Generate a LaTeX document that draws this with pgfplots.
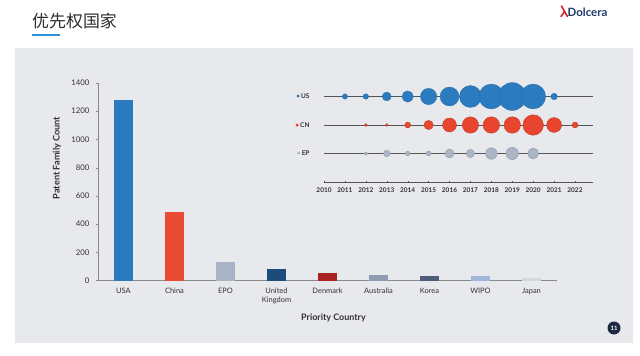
\documentclass[border=0pt]{standalone}
\usepackage{pgfplots}
\pgfplotsset{compat=1.18}
\usepackage{fontspec}
\setmainfont{Lato}
\newfontfamily\cjk{Noto Sans CJK SC}
\definecolor{panel}{HTML}{E8E9EC}
\definecolor{titlec}{HTML}{2E2E2E}
\definecolor{ublue}{HTML}{2B8FD8}
\definecolor{navy}{HTML}{1F3A6E}
\definecolor{logored}{HTML}{D8232A}
\definecolor{axisgray}{HTML}{8A8A8A}
\definecolor{labc}{HTML}{333333}
\definecolor{cUSA}{HTML}{2A7ABF}
\definecolor{cChina}{HTML}{E84A32}
\definecolor{cEPO}{HTML}{A8B4C6}
\definecolor{cUK}{HTML}{1D4B7A}
\definecolor{cDen}{HTML}{A8231F}
\definecolor{cAus}{HTML}{8E9BB0}
\definecolor{cKor}{HTML}{4D5D7A}
\definecolor{cWIPO}{HTML}{9EB6D8}
\definecolor{cJap}{HTML}{D3D7DE}
\definecolor{bUS}{HTML}{2B7BC0}
\definecolor{bCN}{HTML}{E8452F}
\definecolor{bEP}{HTML}{AAB5C6}
\definecolor{rowline}{HTML}{555555}
\definecolor{pagec}{HTML}{1F2940}

\pgfplotstableread{
x y r
2011 3 2.7
2012 3 2.8
2013 3 4.5
2014 3 5.7
2015 3 8.2
2016 3 9.5
2017 3 11.0
2018 3 12.5
2019 3 14.0
2020 3 12.5
2021 3 3.3
}\usdata
\pgfplotstableread{
x y r
2012 2 1.5
2013 2 1.5
2014 2 3.0
2015 2 4.7
2016 2 7.0
2017 2 8.2
2018 2 8.3
2019 2 8.3
2020 2 10.3
2021 2 7.5
2022 2 3.0
}\cndata
\pgfplotstableread{
x y r
2012 1 1.8
2013 1 3.3
2014 1 2.3
2015 1 2.5
2016 1 4.5
2017 1 4.2
2018 1 5.8
2019 1 6.2
2020 1 5.5
}\epdata

\begin{document}
\begin{tikzpicture}[x=1bp,y=1bp]
\fill[white] (0,0) rectangle (640,355);
\fill[panel] (15,12) rectangle (633,307);
% title
\node[anchor=west, inner sep=0, text=titlec] at (32,334) {\cjk\fontsize{17}{20}\selectfont 优先权国家};
\fill[ublue] (32,319.2) rectangle (60,320.8);
% logo
\draw[logored, line width=1.6bp, line cap=round] (561.5,349) -- (564.5,343.5) -- (561,338.5);
\draw[logored, line width=1.6bp, line cap=round] (564.5,343.5) -- (567.5,338.5);
\node[anchor=west, inner sep=0, text=navy] at (567.5,343) {\fontsize{11.5}{13}\selectfont\bfseries Dolcera};
% page number
\fill[pagec] (614,27) circle (6.5);
\node[text=white, inner sep=0] at (614,27) {\fontsize{6}{7}\selectfont\bfseries 11};

\begin{axis}[
  at={(98bp,74.5bp)}, anchor=south west, scale only axis,
  width=459bp, height=197.5bp,
  ybar, bar width=19bp,
  xmin=-0.5, xmax=8.5, ymin=0, ymax=1400,
  axis lines*=left,
  axis line style={draw=axisgray, line width=0.5pt},
  ytick={0,200,...,1400},
  xtick={0,...,8},
  xticklabels={USA,China,EPO,{United\\Kingdom},Denmark,Australia,Korea,WIPO,Japan},
  xticklabel style={align=center, font=\fontsize{7.5}{9}\selectfont, text=labc, yshift=-2bp},
  yticklabel style={font=\fontsize{7.8}{9}\selectfont, text=labc, xshift=-3bp, /pgf/number format/1000 sep={}},
  /pgf/number format/assume math mode=true,
  x tick style={draw=none},
  extra x ticks={0.5,1.5,...,7.5},
  extra x tick labels={},
  extra x tick style={tick style={draw=axisgray}, major tick length=2bp, tick align=inside},
  y tick style={draw=axisgray},
  major tick length=2bp,
  tick align=outside,
  ylabel={Patent Family Count},
  xlabel={Priority Country},
  ylabel style={at={(axis description cs:-0.0893,0.62)}, anchor=center, font=\fontsize{9.2}{11}\selectfont\bfseries, text=labc},
  xlabel style={at={(axis description cs:0.5,0)}, yshift=-37.5bp, xshift=6bp, anchor=center, font=\fontsize{9}{11}\selectfont\bfseries, text=labc},
]
\addplot[bar shift=0pt, fill=cUSA, draw=none] coordinates {(0,1280)};
\addplot[bar shift=0pt, fill=cChina, draw=none] coordinates {(1,488)};
\addplot[bar shift=0pt, fill=cEPO, draw=none] coordinates {(2,131)};
\addplot[bar shift=0pt, fill=cUK, draw=none] coordinates {(3,84)};
\addplot[bar shift=0pt, fill=cDen, draw=none] coordinates {(4,51)};
\addplot[bar shift=0pt, fill=cAus, draw=none] coordinates {(5,41)};
\addplot[bar shift=0pt, fill=cKor, draw=none] coordinates {(6,34)};
\addplot[bar shift=0pt, fill=cWIPO, draw=none] coordinates {(7,33)};
\addplot[bar shift=0pt, fill=cJap, draw=none] coordinates {(8,20)};
\end{axis}

\begin{axis}[
  at={(324bp,173bp)}, anchor=south west, scale only axis,
  width=269bp, height=99.75bp,
  xmin=2010, xmax=2022.86, ymin=0, ymax=3.5,
  clip=false,
  axis lines*=left,
  x axis line style={draw=rowline, line width=0.5pt},
  y axis line style={draw=none},
  xtick={2010,...,2022},
  xticklabel style={/pgf/number format/1000 sep={}, font=\fontsize{6.5}{8}\selectfont\bfseries, text=labc, yshift=-1bp},
  /pgf/number format/assume math mode=true,
  x tick style={draw=rowline},
  tick align=center,
  major tick length=2bp,
  ytick={1,2,3},
  yticklabels={{\textcolor{bEP}{\textbullet}\,EP},{\textcolor{bCN}{\textbullet}\,CN},{\textcolor{bUS}{\textbullet}\,US}},
  y tick style={draw=none},
  yticklabel style={font=\fontsize{6.5}{8}\selectfont\bfseries, text=labc, xshift=-10bp},
]
\addplot[rowline, line width=0.6pt] coordinates {(2010,3) (2022.86,3)};
\addplot[rowline, line width=0.6pt] coordinates {(2010,2) (2022.86,2)};
\addplot[rowline, line width=0.6pt] coordinates {(2010,1) (2022.86,1)};
\addplot[scatter, only marks, mark=*,
  scatter/use mapped color={draw=bUS!85!black, fill=bUS},
  visualization depends on={\thisrow{r} \as \prad},
  scatter/@pre marker code/.append style={/tikz/mark size=\prad},
  line width=0.3pt]
  table[x=x, y=y] {\usdata};
\addplot[scatter, only marks, mark=*,
  scatter/use mapped color={draw=bCN!80!black, fill=bCN},
  visualization depends on={\thisrow{r} \as \prad},
  scatter/@pre marker code/.append style={/tikz/mark size=\prad},
  line width=0.3pt]
  table[x=x, y=y] {\cndata};
\addplot[scatter, only marks, mark=*,
  scatter/use mapped color={draw=bEP!80!black, fill=bEP},
  visualization depends on={\thisrow{r} \as \prad},
  scatter/@pre marker code/.append style={/tikz/mark size=\prad},
  line width=0.3pt]
  table[x=x, y=y] {\epdata};
\end{axis}
\pgfresetboundingbox
\path[use as bounding box] (0,0) rectangle (640,355);
\end{tikzpicture}
\end{document}
